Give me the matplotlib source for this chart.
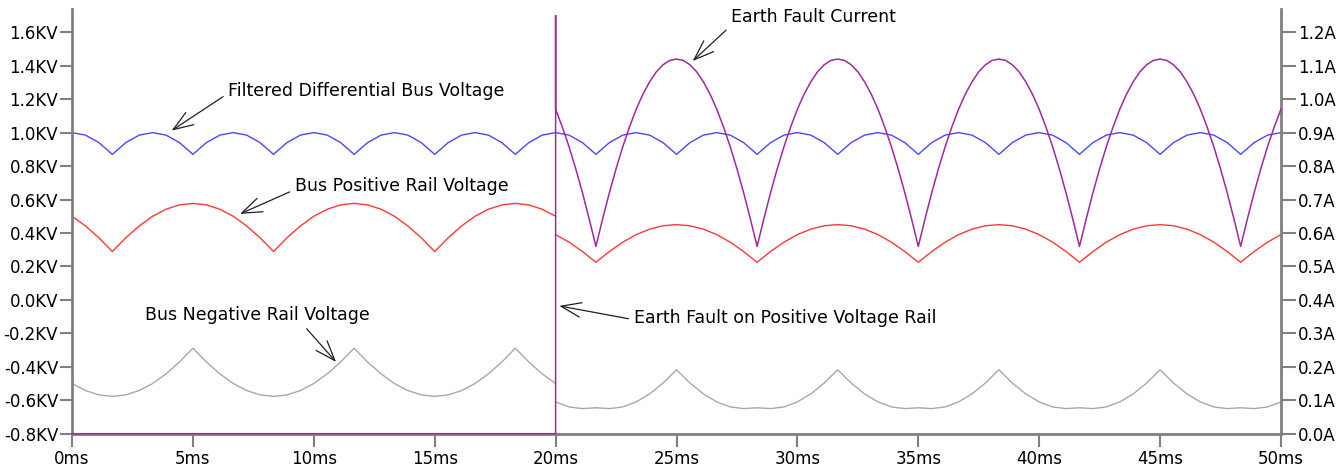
import matplotlib
matplotlib.use("Agg")
import matplotlib.pyplot as plt
import numpy as np

# LTspice-ish palette
BLUE = "#4848FF"
RED = "#FF3838"
GREY = "#A8A8A8"
PURPLE = "#A028A0"
AXIS_GREY = "#808080"
INK = "#202020"

plt.rcParams["font.family"] = ["DejaVu Sans"]
plt.rcParams["font.size"] = 12

# sample times: one point every 0.556 ms (1/36 of a 20 ms mains cycle)
t_all = np.linspace(0, 50, 91)
t_pre = t_all[:37]   # 0 .. 20 ms
t_post = t_all[36:]  # 20 .. 50 ms
# the fault current is read twice as finely (0.278 ms)
t_post_fine = np.linspace(20, 50, 109)

# filtered differential bus voltage (KV), whole run
diff_kv = [
    1.00, 0.985, 0.94, 0.87, 0.94, 0.985,
    1.00, 0.985, 0.94, 0.87, 0.94, 0.985,
    1.00, 0.985, 0.94, 0.87, 0.94, 0.985,
    1.00, 0.985, 0.94, 0.87, 0.94, 0.985,
    1.00, 0.985, 0.94, 0.87, 0.94, 0.985,
    1.00, 0.985, 0.94, 0.87, 0.94, 0.985,
    1.00, 0.985, 0.94, 0.87, 0.94, 0.985,
    1.00, 0.985, 0.94, 0.87, 0.94, 0.985,
    1.00, 0.985, 0.94, 0.87, 0.94, 0.985,
    1.00, 0.985, 0.94, 0.87, 0.94, 0.985,
    1.00, 0.985, 0.94, 0.87, 0.94, 0.985,
    1.00, 0.985, 0.94, 0.87, 0.94, 0.985,
    1.00, 0.985, 0.94, 0.87, 0.94, 0.985,
    1.00, 0.985, 0.94, 0.87, 0.94, 0.985,
    1.00, 0.985, 0.94, 0.87, 0.94, 0.985,
    1.00,
]

# positive rail (KV), before / after the fault
pos_pre_kv = [
    0.50, 0.442, 0.371, 0.289, 0.371, 0.442, 0.50, 0.542, 0.568, 0.577, 0.568, 0.542,
    0.50, 0.442, 0.371, 0.289, 0.371, 0.442, 0.50, 0.542, 0.568, 0.577, 0.568, 0.542,
    0.50, 0.442, 0.371, 0.289, 0.371, 0.442, 0.50, 0.542, 0.568, 0.577, 0.568, 0.542,
    0.50,
]
pos_post_kv = [
    0.39, 0.345, 0.289, 0.225, 0.289, 0.345, 0.39, 0.423, 0.443, 0.45, 0.443, 0.423,
    0.39, 0.345, 0.289, 0.225, 0.289, 0.345, 0.39, 0.423, 0.443, 0.45, 0.443, 0.423,
    0.39, 0.345, 0.289, 0.225, 0.289, 0.345, 0.39, 0.423, 0.443, 0.45, 0.443, 0.423,
    0.39, 0.345, 0.289, 0.225, 0.289, 0.345, 0.39, 0.423, 0.443, 0.45, 0.443, 0.423,
    0.39, 0.345, 0.289, 0.225, 0.289, 0.345, 0.39,
]

# negative rail (KV), before / after the fault
neg_pre_kv = [
    -0.50, -0.542, -0.568, -0.577, -0.568, -0.542, -0.50, -0.442, -0.371, -0.289, -0.371, -0.442,
    -0.50, -0.542, -0.568, -0.577, -0.568, -0.542, -0.50, -0.442, -0.371, -0.289, -0.371, -0.442,
    -0.50, -0.542, -0.568, -0.577, -0.568, -0.542, -0.50, -0.442, -0.371, -0.289, -0.371, -0.442,
    -0.50,
]
neg_post_kv = [
    -0.61, -0.64, -0.65, -0.645, -0.65, -0.64, -0.61, -0.562, -0.497, -0.418, -0.497, -0.562,
    -0.61, -0.64, -0.65, -0.645, -0.65, -0.64, -0.61, -0.562, -0.497, -0.418, -0.497, -0.562,
    -0.61, -0.64, -0.65, -0.645, -0.65, -0.64, -0.61, -0.562, -0.497, -0.418, -0.497, -0.562,
    -0.61, -0.64, -0.65, -0.645, -0.65, -0.64, -0.61, -0.562, -0.497, -0.418, -0.497, -0.562,
    -0.61, -0.64, -0.65, -0.645, -0.65, -0.64, -0.61,
]

# earth fault current (A): zero, spike at 20 ms, then rectified ripple
fault_pre_t = [0.0, 20.0, 20.0]
fault_pre_a = [0.0, 0.0, 1.25]
fault_post_a = [
    0.970, 0.917, 0.858, 0.792, 0.720, 0.642, 0.560, 0.642, 0.720, 0.792, 0.858, 0.917,
    0.970, 1.015, 1.052, 1.082, 1.103, 1.116, 1.120, 1.116, 1.103, 1.082, 1.052, 1.015,
    0.970, 0.917, 0.858, 0.792, 0.720, 0.642, 0.560, 0.642, 0.720, 0.792, 0.858, 0.917,
    0.970, 1.015, 1.052, 1.082, 1.103, 1.116, 1.120, 1.116, 1.103, 1.082, 1.052, 1.015,
    0.970, 0.917, 0.858, 0.792, 0.720, 0.642, 0.560, 0.642, 0.720, 0.792, 0.858, 0.917,
    0.970, 1.015, 1.052, 1.082, 1.103, 1.116, 1.120, 1.116, 1.103, 1.082, 1.052, 1.015,
    0.970, 0.917, 0.858, 0.792, 0.720, 0.642, 0.560, 0.642, 0.720, 0.792, 0.858, 0.917,
    0.970, 1.015, 1.052, 1.082, 1.103, 1.116, 1.120, 1.116, 1.103, 1.082, 1.052, 1.015,
    0.970, 0.917, 0.858, 0.792, 0.720, 0.642, 0.560, 0.642, 0.720, 0.792, 0.858, 0.917,
    0.970,
]

x_ticks = [0, 5, 10, 15, 20, 25, 30, 35, 40, 45, 50]
kv_ticks = [-0.8, -0.6, -0.4, -0.2, 0.0, 0.2, 0.4, 0.6, 0.8, 1.0, 1.2, 1.4, 1.6]
amp_ticks = [0.0, 0.1, 0.2, 0.3, 0.4, 0.5, 0.6, 0.7, 0.8, 0.9, 1.0, 1.1, 1.2]

fig = plt.figure(figsize=(13.44, 4.68), dpi=100)
ax = fig.add_axes([0.0536, 0.0733, 0.8995, 0.9075])
ax2 = ax.twinx()

ax.plot(t_all, diff_kv, color=BLUE, lw=1.0)
ax.plot(t_pre, pos_pre_kv, color=RED, lw=1.0)
ax.plot(t_post, pos_post_kv, color=RED, lw=1.0)
ax.plot(t_pre, neg_pre_kv, color=GREY, lw=1.0)
ax.plot(t_post, neg_post_kv, color=GREY, lw=1.0)

fault_t = fault_pre_t + list(t_post_fine)
fault_a = fault_pre_a + fault_post_a
ax2.plot(fault_t, fault_a, color=PURPLE, lw=1.1, clip_on=False, zorder=5)

ax.set_xlim(0, 50)
ax.set_ylim(-0.8, 1.739)
ax2.set_ylim(0.0, 1.2697)

ax.set_xticks(x_ticks)
ax.set_xticklabels([f"{v}ms" for v in x_ticks])
ax.set_yticks(kv_ticks)
ax.set_yticklabels([f"{v:.1f}KV" for v in kv_ticks])
ax2.set_yticks(amp_ticks)
ax2.set_yticklabels([f"{v:.1f}A" for v in amp_ticks])

for a in (ax, ax2):
    a.spines["top"].set_visible(False)
    for s in a.spines.values():
        s.set_color(AXIS_GREY)
        s.set_linewidth(2)
ax.spines["right"].set_visible(False)
ax2.spines["left"].set_visible(False)
ax2.spines["bottom"].set_visible(False)

ax.tick_params(axis="y", length=9, width=1.5, color=AXIS_GREY, pad=1, labelsize=12)
ax.tick_params(axis="x", length=9, width=1.5, color=AXIS_GREY, pad=3, labelsize=12)
ax2.tick_params(axis="y", length=11, width=1.5, color=AXIS_GREY, pad=1, labelsize=12)

arrow = dict(arrowstyle="->,head_length=1.15,head_width=0.42", color=INK, lw=0.9,
             shrinkA=2, shrinkB=0)

notes = [
    ("Filtered Differential Bus Voltage", (4.12, 1.012), (6.46, 1.246), (0.0, 0.4)),
    ("Bus Positive Rail Voltage", (6.95, 0.514), (9.22, 0.681), (0.0, 0.3)),
    ("Bus Negative Rail Voltage", (10.92, -0.371), (3.02, -0.090), (0.70, 0.0)),
    ("Earth Fault Current", (25.67, 1.428), (27.25, 1.693), (0.0, 0.0)),
    ("Earth Fault on Positive Voltage Rail", (20.15, -0.036), (23.24, -0.108), (0.0, 0.4)),
]
for label, tip, txt, rel in notes:
    ax.annotate(label, xy=tip, xytext=txt, ha="left", va="center", fontsize=12.5,
                color="black", arrowprops=dict(arrow, relpos=rel), zorder=6)

fig.savefig("out.png", dpi=100)
